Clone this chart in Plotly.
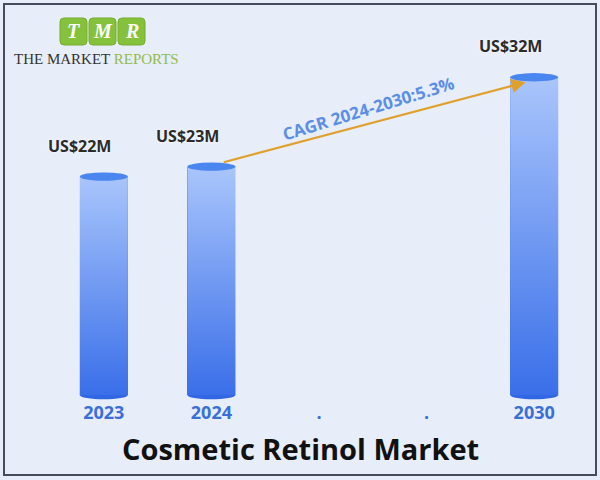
import plotly.graph_objects as go

# ---- data ----
categories = ["2023", "2024", ".", ".", "2030"]
years_with_values = [0, 1, 4]
values = [22, 23, 32]
value_labels = ["US$22M", "US$23M", "US$32M"]
title_text = "Cosmetic Retinol Market"
cagr_text = "CAGR 2024-2030:5.3%"

# ---- layout geometry (pixels) ----
W_PX, H_PX = 600, 480
L, R, T, B = 50, 12, 30, 80
PW = W_PX - L - R
PH = H_PX - T - B
Y_LO, Y_HI = -0.5, 36.76
BAR_W = 0.447
ELL_H = 0.42

def px(xp):
    return (xp - L) / PW

def py(yp):
    return (H_PX - B - yp) / PH

BG = "#e7edf9"
TOP_C = "#a9c5fb"
BOT_C = "#3a6fe9"
CAP_C = "#4a86ef"
BOTCAP_C = "#3267e4"

fig = go.Figure()

# base bars (for semantics)
fig.add_trace(go.Bar(
    x=years_with_values, y=values, width=BAR_W,
    marker=dict(color=BOT_C, line=dict(width=0)),
    hoverinfo="skip", showlegend=False,
))

shapes = []
annotations = []

for xi, v, lab in zip(years_with_values, values, value_labels):
    x0, x1 = xi - BAR_W / 2, xi + BAR_W / 2
    fig.add_trace(go.Scatter(
        x=[x0, x1, x1, x0, x0], y=[0, 0, v, v, 0],
        mode="lines", line=dict(width=0), fill="toself",
        fillgradient=dict(type="vertical",
                          colorscale=[[0, BOT_C], [1, TOP_C]]),
        hoverinfo="skip", showlegend=False,
    ))
    # bottom ellipse
    shapes.append(dict(type="circle", xref="x", yref="y", layer="below",
                       x0=x0, x1=x1, y0=-ELL_H, y1=ELL_H,
                       fillcolor=BOTCAP_C, line=dict(width=0)))
    # top ellipse
    shapes.append(dict(type="circle", xref="x", yref="y", layer="above",
                       x0=x0, x1=x1, y0=v - ELL_H, y1=v + ELL_H,
                       fillcolor=CAP_C, line=dict(width=0)))
    annotations.append(dict(
        x=x0, y=v, xref="x", yref="y", yshift=31, showarrow=False,
        xanchor="center", yanchor="middle",
        text=lab,
        font=dict(family="Open Sans", size=16, color="#2b2b2b", weight=700,
                  shadow="0px 0px 3px white"),
    ))

# CAGR arrow
annotations.append(dict(
    x=3.92, y=31.5, ax=1.1, ay=23.4, xref="x", yref="y", axref="x", ayref="y",
    text="", showarrow=True, arrowhead=2, arrowsize=1.3, arrowwidth=2.2,
    arrowcolor="#e0a02c",
))
annotations.append(dict(
    x=2.456, y=28.9, xref="x", yref="y", showarrow=False, text=cagr_text,
    textangle=-17, xanchor="center", yanchor="middle",
    font=dict(family="Open Sans", size=17, color="#5b8fe6", weight=700),
))

# title
annotations.append(dict(
    x=px(300), y=py(448), xref="paper", yref="paper", showarrow=False,
    text=title_text, xanchor="center", yanchor="middle",
    font=dict(family="Open Sans", size=29, color="#111111", weight=700),
))

# logo boxes
box_x = [(60, 87, "T"), (89, 116, "M"), (118, 145, "R")]
for a, b, letter in box_x:
    r = 4
    x0, x1, y0, y1 = a, b, 18, 45
    path = (f"M {px(x0 + r)} {py(y0)} L {px(x1 - r)} {py(y0)} "
            f"Q {px(x1)} {py(y0)} {px(x1)} {py(y0 + r)} "
            f"L {px(x1)} {py(y1 - r)} Q {px(x1)} {py(y1)} {px(x1 - r)} {py(y1)} "
            f"L {px(x0 + r)} {py(y1)} Q {px(x0)} {py(y1)} {px(x0)} {py(y1 - r)} "
            f"L {px(x0)} {py(y0 + r)} Q {px(x0)} {py(y0)} {px(x0 + r)} {py(y0)} Z")
    shapes.append(dict(type="path", xref="paper", yref="paper", path=path,
                       fillcolor="#86c13c", line=dict(color="#74ad2e", width=1)))
    annotations.append(dict(
        x=px((a + b) / 2), y=py(31.5), xref="paper", yref="paper",
        xanchor="center", yanchor="middle",
        showarrow=False, text=f"<b><i>{letter}</i></b>",
        font=dict(family="Liberation Serif", size=20, color="white"),
    ))
annotations.append(dict(
    x=px(12), y=py(59), xref="paper", yref="paper", xanchor="left",
    yanchor="middle", showarrow=False,
    text="THE MARKET <span style='color:#93bb4a'>REPORTS</span>",
    font=dict(family="Liberation Serif", size=15, color="#333333"),
))

# frame border
shapes.append(dict(type="rect", xref="paper", yref="paper",
                   x0=px(4), x1=px(596), y0=py(475), y1=py(4),
                   line=dict(color="#474c5c", width=2), fillcolor="rgba(0,0,0,0)"))

fig.update_layout(
    width=W_PX, height=H_PX,
    margin=dict(l=L, r=R, t=T, b=B),
    paper_bgcolor=BG, plot_bgcolor=BG,
    shapes=shapes, annotations=annotations,
    showlegend=False, bargap=0,
    xaxis=dict(range=[-0.5, 4.5], tickmode="array",
               tickvals=list(range(len(categories))), ticktext=categories,
               showgrid=False, zeroline=False, showline=False, ticks="",
               tickfont=dict(family="Open Sans", size=18, color="#3a6fd8",
                             weight=700),
               fixedrange=True),
    yaxis=dict(range=[Y_LO, Y_HI], visible=False, fixedrange=True),
)

fig.write_html("out.html",
               config={"displayModeBar": False},
               post_script="document.body.style.margin='0';"
                           "document.body.style.background='" + BG + "';")
